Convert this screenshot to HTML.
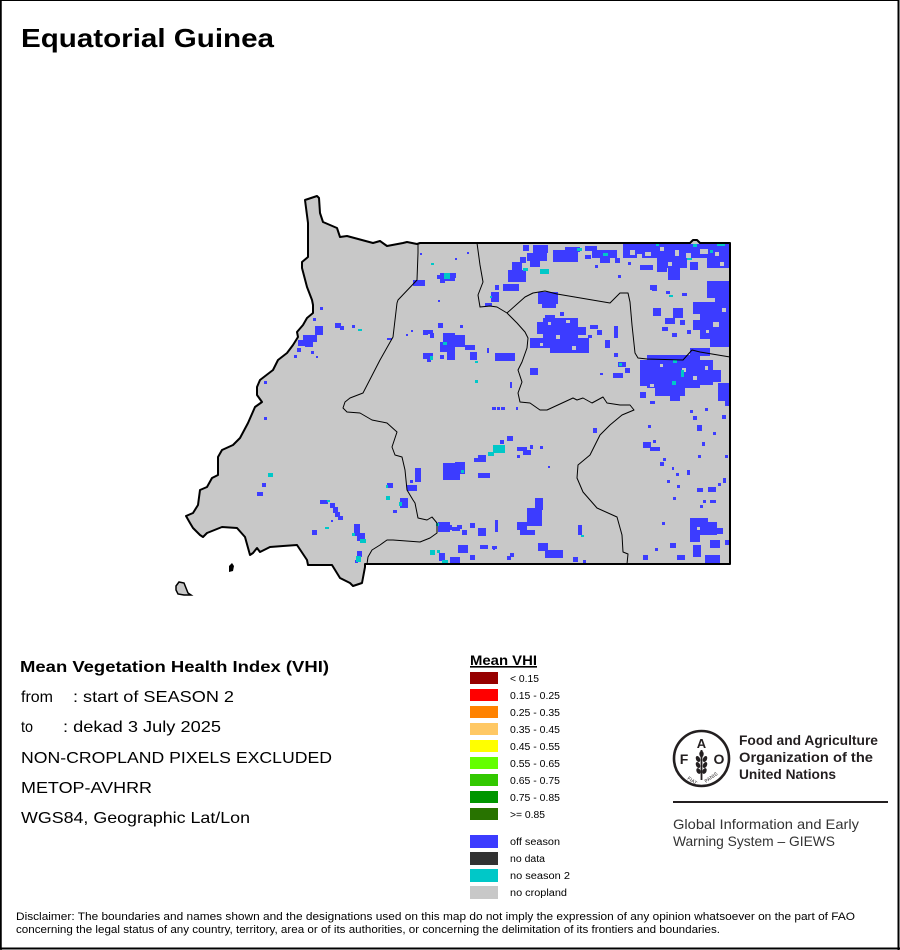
<!DOCTYPE html>
<html><head><meta charset="utf-8">
<style>
html,body{margin:0;padding:0;background:#fff;}
svg{display:block;}
</style></head>
<body>
<svg width="900" height="950" viewBox="0 0 900 950" xmlns="http://www.w3.org/2000/svg" font-family="Liberation Sans, Arial, sans-serif">
<rect x="0" y="0" width="900" height="950" fill="#fff"/>
<!-- frame -->
<rect x="0.5" y="0.5" width="898" height="948" fill="none" stroke="#000" stroke-width="1"/>
<line x1="898.5" y1="0" x2="898.5" y2="950" stroke="#000" stroke-width="2"/>
<line x1="0" y1="948.5" x2="900" y2="948.5" stroke="#000" stroke-width="2"/>
<line x1="1" y1="0" x2="1" y2="950" stroke="#000" stroke-width="1.5"/>

<text x="21" y="47" font-size="26" font-weight="bold" textLength="253" lengthAdjust="spacingAndGlyphs">Equatorial Guinea</text>

<defs>
<clipPath id="cp">
<polygon points="305,200 317,196 319,198 320,213 323,222 337,228 340,237 347,236 373,243 380,241 387,246 403,243 407,242 417,244 420,243 690,243 693,240 697,240 700,243 730,243 730,564 365,564 365,567 362,583 353,586 350,583 340,578 332,565 308,565 307,560 297,545 283,546 270,547 260,552 257,548 253,553 250,555 245,537 237,528 222,527 207,533 203,537 200,535 193,528 190,523 186,516 193,513 198,505 200,490 207,487 212,478 218,475 218,457 222,450 233,445 240,438 248,423 255,407 262,402 257,395 257,387 260,380 273,370 278,360 287,353 293,345 298,337 297,332 303,325 307,318 313,313 313,305 312,300 307,287 302,268 302,262 308,257 308,242 308,223"/>
</clipPath>
</defs>

<polygon points="305,200 317,196 319,198 320,213 323,222 337,228 340,237 347,236 373,243 380,241 387,246 403,243 407,242 417,244 420,243 690,243 693,240 697,240 700,243 730,243 730,564 365,564 365,567 362,583 353,586 350,583 340,578 332,565 308,565 307,560 297,545 283,546 270,547 260,552 257,548 253,553 250,555 245,537 237,528 222,527 207,533 203,537 200,535 193,528 190,523 186,516 193,513 198,505 200,490 207,487 212,478 218,475 218,457 222,450 233,445 240,438 248,423 255,407 262,402 257,395 257,387 260,380 273,370 278,360 287,353 293,345 298,337 297,332 303,325 307,318 313,313 313,305 312,300 307,287 302,268 302,262 308,257 308,242 308,223" fill="#c8c8c8"/>

<g clip-path="url(#cp)" shape-rendering="crispEdges">
<g fill="#3c3cff">
<!-- west part -->
<rect x="320" y="307" width="3" height="3"/>
<rect x="313" y="318" width="3" height="3"/>
<rect x="315" y="326" width="8" height="9"/>
<rect x="303" y="335" width="14" height="7"/>
<rect x="298" y="340" width="10" height="6"/>
<rect x="305" y="342" width="8" height="5"/>
<rect x="297" y="348" width="4" height="4"/>
<rect x="294" y="355" width="3" height="3"/>
<rect x="335" y="323" width="6" height="5"/>
<rect x="340" y="326" width="4" height="4"/>
<rect x="352" y="325" width="3" height="3"/>
<rect x="311" y="351" width="3" height="3"/>
<rect x="316" y="356" width="2" height="2"/>
<rect x="264" y="381" width="3" height="3"/>
<rect x="264" y="417" width="3" height="3"/>
<rect x="262" y="483" width="4" height="4"/>
<rect x="257" y="492" width="6" height="4"/>
<rect x="320" y="500" width="8" height="4"/>
<rect x="330" y="503" width="5" height="5"/>
<rect x="333" y="507" width="5" height="6"/>
<rect x="335" y="512" width="5" height="5"/>
<rect x="338" y="516" width="5" height="4"/>
<rect x="312" y="530" width="5" height="5"/>
<rect x="331" y="520" width="2" height="2"/>
<rect x="354" y="524" width="6" height="12"/>
<rect x="357" y="533" width="8" height="8"/>
<rect x="357" y="551" width="5" height="6"/>
<rect x="355" y="560" width="3" height="3"/>
<rect x="387" y="483" width="6" height="5"/>
<rect x="393" y="510" width="4" height="3"/>
<rect x="400" y="498" width="8" height="10"/>
<rect x="415" y="468" width="6" height="14"/>
<rect x="407" y="485" width="10" height="6"/>
<rect x="410" y="480" width="3" height="3"/>
<rect x="443" y="463" width="17" height="9"/>
<rect x="443" y="472" width="17" height="8"/>
<rect x="455" y="462" width="10" height="12"/>
<rect x="478" y="473" width="12" height="5"/>
<rect x="438" y="522" width="12" height="10"/>
<rect x="445" y="525" width="7" height="5"/>
<rect x="439" y="553" width="6" height="8"/>
<rect x="416" y="280" width="8" height="6"/>
<rect x="413" y="280" width="12" height="6"/>
<rect x="437" y="275" width="6" height="4"/>
<rect x="443" y="273" width="13" height="5"/>
<rect x="440" y="280" width="5" height="3"/>
<rect x="455" y="258" width="2" height="2"/>
<rect x="438" y="300" width="2" height="2"/>
<rect x="425" y="330" width="8" height="4"/>
<rect x="430" y="333" width="4" height="5"/>
<rect x="406" y="334" width="2" height="2"/>
<rect x="411" y="330" width="2" height="2"/>
<rect x="445" y="333" width="8" height="7"/>
<rect x="443" y="343" width="8" height="5"/>
<rect x="447" y="348" width="8" height="12"/>
<rect x="440" y="355" width="4" height="4"/>
<rect x="423" y="353" width="10" height="6"/>
<rect x="427" y="358" width="4" height="4"/>
<rect x="387" y="338" width="5" height="2"/>
<rect x="420" y="253" width="2" height="2"/>
<rect x="467" y="252" width="2" height="2"/>
<rect x="423" y="330" width="5" height="5"/>
<rect x="438" y="323" width="5" height="5"/>
<rect x="440" y="342" width="15" height="10"/>
<rect x="443" y="333" width="12" height="12"/>
<rect x="455" y="335" width="10" height="12"/>
<rect x="465" y="345" width="10" height="5"/>
<rect x="460" y="325" width="3" height="3"/>
<rect x="470" y="352" width="7" height="8"/>
<rect x="487" y="348" width="2" height="5"/>
<rect x="495" y="353" width="12" height="8"/>
<rect x="505" y="357" width="10" height="4"/>
<rect x="440" y="273" width="15" height="8"/>
<rect x="495" y="285" width="4" height="5"/>
<rect x="491" y="292" width="8" height="10"/>
<rect x="485" y="303" width="7" height="3"/>
<rect x="530" y="368" width="8" height="6"/>
<rect x="492" y="407" width="4" height="3"/>
<rect x="497" y="407" width="3" height="3"/>
<rect x="501" y="407" width="4" height="3"/>
<rect x="516" y="407" width="2" height="3"/>
<rect x="510" y="382" width="2" height="6"/>
<rect x="593" y="428" width="4" height="5"/>
<rect x="507" y="436" width="6" height="5"/>
<rect x="500" y="440" width="4" height="4"/>
<rect x="478" y="455" width="8" height="3"/>
<rect x="474" y="458" width="12" height="4"/>
<rect x="517" y="447" width="10" height="4"/>
<rect x="523" y="450" width="8" height="5"/>
<rect x="530" y="445" width="3" height="4"/>
<rect x="540" y="446" width="3" height="3"/>
<rect x="517" y="455" width="3" height="3"/>
<rect x="548" y="466" width="2" height="2"/>
<rect x="535" y="498" width="8" height="12"/>
<rect x="527" y="508" width="15" height="18"/>
<rect x="517" y="522" width="10" height="8"/>
<rect x="520" y="530" width="15" height="5"/>
<rect x="538" y="543" width="10" height="8"/>
<rect x="545" y="550" width="18" height="8"/>
<rect x="443" y="525" width="5" height="5"/>
<rect x="452" y="527" width="8" height="4"/>
<rect x="462" y="530" width="5" height="5"/>
<rect x="470" y="523" width="5" height="5"/>
<rect x="478" y="528" width="8" height="8"/>
<rect x="495" y="520" width="3" height="12"/>
<rect x="480" y="545" width="8" height="4"/>
<rect x="458" y="545" width="10" height="8"/>
<rect x="450" y="557" width="10" height="7"/>
<rect x="470" y="555" width="5" height="5"/>
<rect x="493" y="548" width="2" height="2"/>
<rect x="578" y="525" width="4" height="10"/>
<rect x="583" y="560" width="3" height="3"/>
<rect x="573" y="557" width="5" height="5"/>
<rect x="510" y="553" width="4" height="4"/>
<rect x="507" y="556" width="4" height="4"/>
<rect x="492" y="546" width="5" height="3"/>
<rect x="518" y="523" width="3" height="3"/>
<rect x="457" y="525" width="5" height="4"/>
<!-- upper right -->
<rect x="508" y="270" width="18" height="12"/>
<rect x="503" y="284" width="16" height="7"/>
<rect x="512" y="262" width="10" height="8"/>
<rect x="520" y="257" width="6" height="6"/>
<rect x="523" y="245" width="6" height="6"/>
<rect x="533" y="245" width="15" height="8"/>
<rect x="527" y="253" width="20" height="8"/>
<rect x="530" y="261" width="10" height="6"/>
<rect x="553" y="250" width="25" height="12"/>
<rect x="565" y="247" width="15" height="5"/>
<rect x="585" y="246" width="12" height="5"/>
<rect x="592" y="250" width="25" height="8"/>
<rect x="600" y="258" width="10" height="5"/>
<rect x="585" y="255" width="6" height="4"/>
<rect x="615" y="258" width="5" height="5"/>
<rect x="623" y="244" width="107" height="14"/>
<rect x="660" y="258" width="27" height="10"/>
<rect x="668" y="268" width="12" height="12"/>
<rect x="707" y="258" width="23" height="10"/>
<rect x="690" y="262" width="8" height="8"/>
<rect x="657" y="258" width="10" height="14"/>
<rect x="640" y="265" width="13" height="5"/>
<rect x="650" y="285" width="7" height="5"/>
<rect x="538" y="292" width="20" height="12"/>
<rect x="542" y="300" width="14" height="8"/>
<rect x="707" y="281" width="23" height="17"/>
<rect x="715" y="298" width="15" height="5"/>
<rect x="693" y="302" width="37" height="12"/>
<rect x="700" y="314" width="30" height="25"/>
<rect x="693" y="320" width="10" height="10"/>
<rect x="710" y="339" width="20" height="8"/>
<rect x="653" y="308" width="8" height="8"/>
<rect x="673" y="308" width="10" height="10"/>
<rect x="665" y="318" width="10" height="6"/>
<rect x="680" y="320" width="5" height="5"/>
<rect x="662" y="327" width="6" height="4"/>
<rect x="672" y="333" width="5" height="4"/>
<rect x="687" y="330" width="4" height="4"/>
<rect x="682" y="293" width="5" height="3"/>
<rect x="652" y="286" width="5" height="5"/>
<rect x="666" y="291" width="4" height="3"/>
<rect x="543" y="318" width="35" height="25"/>
<rect x="537" y="322" width="8" height="12"/>
<rect x="530" y="338" width="23" height="10"/>
<rect x="550" y="343" width="20" height="10"/>
<rect x="567" y="338" width="22" height="15"/>
<rect x="578" y="327" width="8" height="8"/>
<rect x="545" y="315" width="10" height="5"/>
<rect x="560" y="312" width="4" height="4"/>
<rect x="590" y="325" width="8" height="4"/>
<rect x="597" y="330" width="5" height="5"/>
<rect x="605" y="340" width="5" height="8"/>
<rect x="588" y="335" width="4" height="3"/>
<rect x="614" y="326" width="4" height="12"/>
<rect x="500" y="353" width="15" height="8"/>
<rect x="530" y="370" width="8" height="5"/>
<rect x="600" y="373" width="3" height="2"/>
<rect x="613" y="373" width="10" height="5"/>
<rect x="614" y="353" width="4" height="4"/>
<rect x="618" y="362" width="8" height="5"/>
<rect x="625" y="368" width="5" height="5"/>
<rect x="647" y="355" width="53" height="33"/>
<rect x="640" y="360" width="8" height="20"/>
<rect x="655" y="388" width="30" height="8"/>
<rect x="670" y="395" width="10" height="6"/>
<rect x="700" y="360" width="13" height="25"/>
<rect x="690" y="348" width="20" height="8"/>
<rect x="713" y="370" width="8" height="12"/>
<rect x="640" y="378" width="10" height="8"/>
<rect x="718" y="383" width="12" height="18"/>
<rect x="725" y="401" width="5" height="5"/>
<rect x="640" y="392" width="6" height="6"/>
<rect x="650" y="401" width="5" height="3"/>
<!-- lower right -->
<rect x="643" y="442" width="8" height="6"/>
<rect x="650" y="447" width="10" height="4"/>
<rect x="653" y="440" width="3" height="3"/>
<rect x="690" y="518" width="10" height="24"/>
<rect x="693" y="522" width="24" height="13"/>
<rect x="710" y="540" width="10" height="8"/>
<rect x="693" y="545" width="8" height="12"/>
<rect x="705" y="555" width="15" height="9"/>
<rect x="715" y="528" width="8" height="6"/>
<rect x="700" y="518" width="8" height="6"/>
<rect x="670" y="543" width="6" height="5"/>
<rect x="677" y="555" width="8" height="5"/>
<rect x="648" y="425" width="3" height="3"/>
<rect x="663" y="458" width="3" height="3"/>
<rect x="660" y="462" width="4" height="4"/>
<rect x="672" y="467" width="2" height="3"/>
<rect x="676" y="473" width="3" height="3"/>
<rect x="667" y="480" width="3" height="3"/>
<rect x="687" y="470" width="3" height="5"/>
<rect x="697" y="488" width="6" height="4"/>
<rect x="708" y="487" width="8" height="5"/>
<rect x="710" y="500" width="6" height="3"/>
<rect x="703" y="500" width="3" height="3"/>
<rect x="698" y="455" width="3" height="3"/>
<rect x="702" y="442" width="3" height="4"/>
<rect x="713" y="432" width="3" height="3"/>
<rect x="697" y="425" width="5" height="6"/>
<rect x="693" y="416" width="4" height="4"/>
<rect x="722" y="415" width="4" height="4"/>
<rect x="690" y="410" width="3" height="3"/>
<rect x="705" y="408" width="3" height="3"/>
<rect x="725" y="455" width="3" height="3"/>
<rect x="723" y="478" width="3" height="5"/>
<rect x="718" y="483" width="3" height="3"/>
<rect x="673" y="497" width="3" height="3"/>
<rect x="677" y="485" width="3" height="3"/>
<rect x="700" y="505" width="3" height="3"/>
<rect x="662" y="522" width="3" height="3"/>
<rect x="643" y="555" width="5" height="5"/>
<rect x="725" y="540" width="5" height="5"/>
<rect x="655" y="548" width="3" height="3"/>
<rect x="618" y="275" width="3" height="3"/>
<rect x="628" y="262" width="3" height="3"/>
<rect x="595" y="265" width="3" height="3"/>
</g>
<g fill="#c8c8c8">
<rect x="645" y="252" width="6" height="4"/>
<rect x="700" y="249" width="8" height="5"/>
<rect x="713" y="322" width="6" height="5"/>
<rect x="556" y="335" width="4" height="4"/>
<rect x="682" y="368" width="4" height="4"/>
<rect x="630" y="250" width="5" height="5"/>
<rect x="675" y="250" width="4" height="6"/>
<rect x="637" y="254" width="5" height="4"/>
<rect x="660" y="247" width="4" height="4"/>
<rect x="686" y="253" width="5" height="5"/>
<rect x="715" y="252" width="4" height="4"/>
<rect x="668" y="262" width="4" height="4"/>
<rect x="720" y="262" width="4" height="4"/>
<rect x="548" y="322" width="3" height="3"/>
<rect x="566" y="320" width="4" height="3"/>
<rect x="572" y="346" width="4" height="4"/>
<rect x="540" y="343" width="3" height="3"/>
<rect x="660" y="364" width="3" height="3"/>
<rect x="693" y="376" width="4" height="4"/>
<rect x="650" y="384" width="4" height="3"/>
<rect x="705" y="366" width="3" height="4"/>
<rect x="722" y="308" width="4" height="4"/>
<rect x="706" y="330" width="3" height="3"/>
<rect x="697" y="527" width="3" height="3"/>
</g>
<g fill="#00c8c8">
<rect x="358" y="329" width="4" height="2"/>
<rect x="268" y="473" width="5" height="4"/>
<rect x="327" y="500" width="3" height="2"/>
<rect x="325" y="527" width="4" height="2"/>
<rect x="360" y="539" width="6" height="4"/>
<rect x="352" y="533" width="3" height="3"/>
<rect x="356" y="556" width="5" height="6"/>
<rect x="386" y="485" width="2" height="3"/>
<rect x="386" y="496" width="4" height="4"/>
<rect x="399" y="502" width="3" height="4"/>
<rect x="436" y="523" width="3" height="3"/>
<rect x="437" y="550" width="3" height="3"/>
<rect x="442" y="560" width="6" height="4"/>
<rect x="444" y="273" width="6" height="6"/>
<rect x="431" y="263" width="3" height="2"/>
<rect x="443" y="342" width="4" height="3"/>
<rect x="430" y="356" width="3" height="4"/>
<rect x="461" y="470" width="3" height="3"/>
<rect x="475" y="361" width="3" height="2"/>
<rect x="475" y="380" width="3" height="3"/>
<rect x="490" y="296" width="2" height="2"/>
<rect x="493" y="445" width="12" height="8"/>
<rect x="488" y="452" width="6" height="4"/>
<rect x="581" y="535" width="3" height="2"/>
<rect x="430" y="550" width="5" height="5"/>
<rect x="523" y="268" width="5" height="3"/>
<rect x="540" y="269" width="9" height="5"/>
<rect x="577" y="248" width="5" height="3"/>
<rect x="603" y="253" width="5" height="3"/>
<rect x="656" y="244" width="3" height="2"/>
<rect x="693" y="244" width="4" height="3"/>
<rect x="717" y="244" width="8" height="2"/>
<rect x="687" y="258" width="5" height="2"/>
<rect x="710" y="250" width="3" height="3"/>
<rect x="669" y="295" width="4" height="2"/>
<rect x="619" y="363" width="3" height="3"/>
<rect x="673" y="360" width="4" height="3"/>
<rect x="681" y="370" width="3" height="7"/>
<rect x="672" y="381" width="4" height="4"/>
</g>
</g>

<!-- internal boundaries -->
<g fill="none" stroke="#000" stroke-width="1" stroke-linejoin="round">
<polyline points="418,243 418,253 417,280 398,300 397,303 393,337 380,360 363,393 350,398 345,402 343,408 347,412 360,413 372,420 387,423 397,432 392,447 395,455 402,457 405,470 407,490 413,500 415,503 418,518 427,520 432,517 437,523 437,533 430,538 420,542 393,540 387,540 380,545 372,550 368,557 367,564"/>
<polyline points="477,243 480,265 483,282 478,295 480,307 490,306 497,307 507,313 517,323 525,332 528,338 527,348 522,362 518,370 522,382 518,393 520,402 530,403 540,410 547,410 573,398 577,400 583,398 592,403 603,397 607,403 620,405 630,405 634,410 622,415 610,425 600,435 590,455 578,465 577,478 583,492 597,508 617,517 622,535 623,552 628,554 627,564"/>
<polyline points="507,313 525,297 533,293 545,291 557,294 610,303 620,293 628,293 630,302 632,325 635,353 638,358 647,359 683,360 692,350 700,352 730,357"/>
</g>
<!-- outline -->
<polygon points="305,200 317,196 319,198 320,213 323,222 337,228 340,237 347,236 373,243 380,241 387,246 403,243 407,242 417,244 420,243 690,243 693,240 697,240 700,243 730,243 730,564 365,564 365,567 362,583 353,586 350,583 340,578 332,565 308,565 307,560 297,545 283,546 270,547 260,552 257,548 253,553 250,555 245,537 237,528 222,527 207,533 203,537 200,535 193,528 190,523 186,516 193,513 198,505 200,490 207,487 212,478 218,475 218,457 222,450 233,445 240,438 248,423 255,407 262,402 257,395 257,387 260,380 273,370 278,360 287,353 293,345 298,337 297,332 303,325 307,318 313,313 313,305 312,300 307,287 302,268 302,262 308,257 308,242 308,223" fill="none" stroke="#000" stroke-width="2" stroke-linejoin="round"/>
<!-- islands -->
<path d="M229,566 L232,563 L234,566 L233,571 L229,572 Z" fill="#000"/>
<polygon points="176,586 179,582 184,583 186,588 188,593 191,595 184,595 178,594 176,590" fill="#c8c8c8" stroke="#000" stroke-width="1.5"/>

<!-- left info text -->
<g font-size="16" fill="#000">
<text x="20" y="672" font-weight="bold" textLength="309" lengthAdjust="spacingAndGlyphs">Mean Vegetation Health Index (VHI)</text>
<text x="21" y="702" textLength="32" lengthAdjust="spacingAndGlyphs">from</text>
<text x="73" y="702" textLength="161" lengthAdjust="spacingAndGlyphs">: start of SEASON 2</text>
<text x="21" y="732" textLength="12" lengthAdjust="spacingAndGlyphs">to</text>
<text x="63" y="732" textLength="158" lengthAdjust="spacingAndGlyphs">: dekad 3 July 2025</text>
<text x="21" y="763" textLength="311" lengthAdjust="spacingAndGlyphs">NON-CROPLAND PIXELS EXCLUDED</text>
<text x="21" y="793" textLength="131" lengthAdjust="spacingAndGlyphs">METOP-AVHRR</text>
<text x="21" y="823" textLength="229" lengthAdjust="spacingAndGlyphs">WGS84, Geographic Lat/Lon</text>
</g>

<!-- legend -->
<text x="470" y="665" font-size="14" font-weight="bold" textLength="67" lengthAdjust="spacingAndGlyphs">Mean VHI</text>
<rect x="470" y="666" width="67" height="1.6" fill="#000"/>
<g shape-rendering="crispEdges">
<rect x="470" y="672" width="28" height="12" fill="#960000"/>
<rect x="470" y="689" width="28" height="12" fill="#ff0000"/>
<rect x="470" y="706" width="28" height="12" fill="#ff8200"/>
<rect x="470" y="723" width="28" height="12" fill="#ffc864"/>
<rect x="470" y="740" width="28" height="12" fill="#ffff00"/>
<rect x="470" y="757" width="28" height="12" fill="#64ff00"/>
<rect x="470" y="774" width="28" height="12" fill="#32c800"/>
<rect x="470" y="791" width="28" height="12" fill="#009600"/>
<rect x="470" y="808" width="28" height="12" fill="#287300"/>
<rect x="470" y="835" width="28" height="13" fill="#3c3cff"/>
<rect x="470" y="852" width="28" height="13" fill="#323232"/>
<rect x="470" y="869" width="28" height="13" fill="#00c8c8"/>
<rect x="470" y="886" width="28" height="13" fill="#c8c8c8"/>
</g>
<g font-size="10" fill="#000">
<text x="510" y="682" textLength="29" lengthAdjust="spacingAndGlyphs">&lt; 0.15</text>
<text x="510" y="699" textLength="50" lengthAdjust="spacingAndGlyphs">0.15 - 0.25</text>
<text x="510" y="716" textLength="50" lengthAdjust="spacingAndGlyphs">0.25 - 0.35</text>
<text x="510" y="733" textLength="50" lengthAdjust="spacingAndGlyphs">0.35 - 0.45</text>
<text x="510" y="750" textLength="50" lengthAdjust="spacingAndGlyphs">0.45 - 0.55</text>
<text x="510" y="767" textLength="50" lengthAdjust="spacingAndGlyphs">0.55 - 0.65</text>
<text x="510" y="784" textLength="50" lengthAdjust="spacingAndGlyphs">0.65 - 0.75</text>
<text x="510" y="801" textLength="50" lengthAdjust="spacingAndGlyphs">0.75 - 0.85</text>
<text x="510" y="818" textLength="35" lengthAdjust="spacingAndGlyphs">&gt;= 0.85</text>
<text x="510" y="845" textLength="50" lengthAdjust="spacingAndGlyphs">off season</text>
<text x="510" y="862" textLength="35" lengthAdjust="spacingAndGlyphs">no data</text>
<text x="510" y="879" textLength="60" lengthAdjust="spacingAndGlyphs">no season 2</text>
<text x="510" y="896" textLength="57" lengthAdjust="spacingAndGlyphs">no cropland</text>
</g>

<!-- FAO logo -->
<g fill="none" stroke="#231f20">
<circle cx="701.5" cy="758.5" r="27.5" stroke-width="2.6"/>
</g>
<g fill="#231f20">
<text x="684" y="764" font-size="14" font-weight="bold" text-anchor="middle">F</text>
<text x="701.5" y="748" font-size="13" font-weight="bold" text-anchor="middle">A</text>
<text x="719" y="764" font-size="14" font-weight="bold" text-anchor="middle">O</text>
<rect x="700.6" y="750" width="1.8" height="30"/>
<ellipse cx="701.5" cy="754" rx="2.2" ry="3.2"/>
<ellipse cx="698" cy="759" rx="2" ry="3.2" transform="rotate(-25 698 759)"/>
<ellipse cx="705" cy="759" rx="2" ry="3.2" transform="rotate(25 705 759)"/>
<ellipse cx="698" cy="765" rx="2" ry="3.2" transform="rotate(-25 698 765)"/>
<ellipse cx="705" cy="765" rx="2" ry="3.2" transform="rotate(25 705 765)"/>
<ellipse cx="698.5" cy="771" rx="2" ry="3" transform="rotate(-25 698.5 771)"/>
<ellipse cx="704.5" cy="771" rx="2" ry="3" transform="rotate(25 704.5 771)"/>
<text x="687" y="779" font-size="5" transform="rotate(35 687 779)">FIAT</text>
<text x="706" y="783" font-size="5" transform="rotate(-35 706 783)">PANIS</text>
</g>
<g fill="#231f20" font-weight="bold" font-size="14">
<text x="739" y="745" textLength="139" lengthAdjust="spacingAndGlyphs">Food and Agriculture</text>
<text x="739" y="762" textLength="134" lengthAdjust="spacingAndGlyphs">Organization of the</text>
<text x="739" y="779" textLength="97" lengthAdjust="spacingAndGlyphs">United Nations</text>
</g>
<rect x="673" y="801" width="215" height="2" fill="#231f20"/>
<g fill="#333" font-size="14">
<text x="673" y="829" textLength="186" lengthAdjust="spacingAndGlyphs">Global Information and Early</text>
<text x="673" y="846" textLength="162" lengthAdjust="spacingAndGlyphs">Warning System – GIEWS</text>
</g>

<!-- disclaimer -->
<g font-size="11" fill="#000">
<text x="16" y="920" textLength="839" lengthAdjust="spacingAndGlyphs">Disclaimer: The boundaries and names shown and the designations used on this map do not imply the expression of any opinion whatsoever on the part of FAO</text>
<text x="16" y="933" textLength="704" lengthAdjust="spacingAndGlyphs">concerning the legal status of any country, territory, area or of its authorities, or concerning the delimitation of its frontiers and boundaries.</text>
</g>
</svg>
</body></html>
